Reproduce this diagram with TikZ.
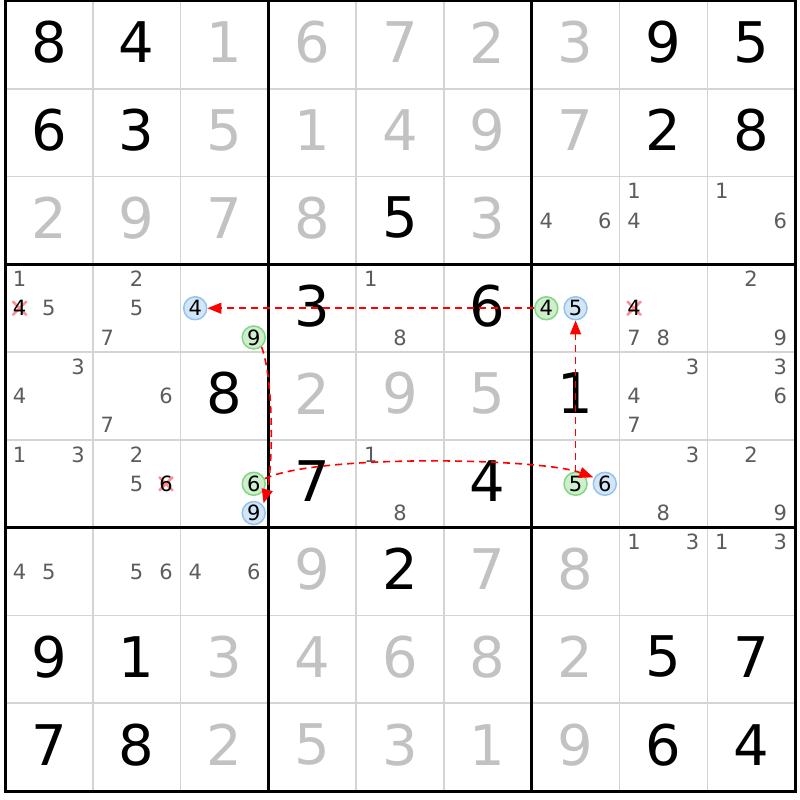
\documentclass[tikz,border=0pt]{standalone}
\usepackage{fontspec}
\setmainfont{DejaVu Sans}
\usetikzlibrary{arrows.meta}
\definecolor{thingrid}{HTML}{D4D4D4}
\definecolor{solvedgray}{HTML}{C2C2C2}
\definecolor{candgray}{HTML}{5C5C5C}
\definecolor{gfill}{HTML}{CDEFCD}
\definecolor{gline}{HTML}{84D684}
\definecolor{bfill}{HTML}{D2E6F8}
\definecolor{bline}{HTML}{94C4EE}
\definecolor{crosscol}{HTML}{FF8E8E}
\definecolor{linkred}{HTML}{FF0000}
\newcommand\mycandxy[3]{%
  \pgfmathsetmacro\myx{5+(#2-1)*87.78+(mod(#3-1,3)+0.5)*29.26}%
  \pgfmathsetmacro\myy{1+(#1-1)*87.78+(floor((#3-1)/3)+0.5)*29.26}}
\tikzset{
  thinline/.style={draw=thingrid,line width=1.5pt},
  thickline/.style={draw=black,line width=3pt,line cap=rect},
  bigdigit/.style={inner sep=0pt,anchor=center,font=\fontsize{56}{60}\selectfont},
  given/.style={bigdigit,text=black},
  solved/.style={bigdigit,text=solvedgray},
  candtext/.style={inner sep=0pt,anchor=center,text=candgray,font=\fontsize{21}{23}\selectfont},
  ringnode/.style={circle,inner sep=0pt,minimum size=23pt,line width=1.5pt,text=black,font=\fontsize{21}{23}\selectfont},
  greenring/.style={ringnode,draw=gline,fill=gfill},
  bluering/.style={ringnode,draw=bline,fill=bfill},
  crossmark/.style={draw=crosscol,line width=2.6pt,line cap=round},
  link/.style={draw=linkred,line width=1.6pt,dash pattern=on 7pt off 5pt,-{Triangle[length=14pt,width=11pt]}}
}
\begin{document}
\begin{tikzpicture}[x=1pt,y=-1pt]
\useasboundingbox (0,0) rectangle (800,800);
\fill[white] (0,0) rectangle (800,800);
% thin grid
\foreach \i in {1,2,4,5,7,8}{
  \draw[thinline] ({5+\i*87.78},1) -- ({5+\i*87.78},791);
  \draw[thinline] (5,{1+\i*87.78}) -- (795,{1+\i*87.78});
}
% big digits
\foreach \r/\c/\d/\k in {
 1/1/8/given,1/2/4/given,1/3/1/solved,1/4/6/solved,1/5/7/solved,1/6/2/solved,1/7/3/solved,1/8/9/given,1/9/5/given,
 2/1/6/given,2/2/3/given,2/3/5/solved,2/4/1/solved,2/5/4/solved,2/6/9/solved,2/7/7/solved,2/8/2/given,2/9/8/given,
 3/1/2/solved,3/2/9/solved,3/3/7/solved,3/4/8/solved,3/5/5/given,3/6/3/solved,
 4/4/3/given,4/6/6/given,
 5/3/8/given,5/4/2/solved,5/5/9/solved,5/6/5/solved,5/7/1/given,
 6/4/7/given,6/6/4/given,
 7/4/9/solved,7/5/2/given,7/6/7/solved,7/7/8/solved,
 8/1/9/given,8/2/1/given,8/3/3/solved,8/4/4/solved,8/5/6/solved,8/6/8/solved,8/7/2/solved,8/8/5/given,8/9/7/given,
 9/1/7/given,9/2/8/given,9/3/2/solved,9/4/5/solved,9/5/3/solved,9/6/1/solved,9/7/9/solved,9/8/6/given,9/9/4/given}{
  \node[\k] (v-\r-\c) at ({5+(\c-0.5)*87.78},{1+(\r-0.5)*87.78-2.5}) {\d};
}
% candidates
\foreach \r/\c/\d in {
 3/7/4,3/7/6,3/8/1,3/8/4,3/9/1,3/9/6,
 4/1/1,4/1/5,4/2/2,4/2/5,4/2/7,4/5/1,4/5/8,4/8/7,4/8/8,4/9/2,4/9/9,
 5/1/3,5/1/4,5/2/6,5/2/7,5/8/3,5/8/4,5/8/7,5/9/3,5/9/6,
 6/1/1,6/1/3,6/2/2,6/2/5,6/5/1,6/5/8,6/8/3,6/8/8,6/9/2,6/9/9,
 7/1/4,7/1/5,7/2/5,7/2/6,7/3/4,7/3/6,7/8/1,7/8/3,7/9/1,7/9/3}{
  \mycandxy{\r}{\c}{\d}
  \node[candtext] (c-\r-\c-\d) at (\myx,\myy) {\d};
}
% eliminated candidates
\foreach \r/\c/\d in {4/1/4,4/8/4,6/2/6}{
  \mycandxy{\r}{\c}{\d}
  \draw[crossmark] (\myx-6.5,\myy-6.5) -- (\myx+6.5,\myy+6.5);
  \draw[crossmark] (\myx-6.5,\myy+6.5) -- (\myx+6.5,\myy-6.5);
  \node[candtext,text=black] (x-\r-\c-\d) at (\myx,\myy) {\d};
}
% ringed candidates
\mycandxy{4}{3}{4} \node[bluering] (b4) at (\myx,\myy) {4};
\mycandxy{4}{3}{9} \node[greenring] (g9) at (\myx,\myy) {9};
\mycandxy{4}{7}{4} \node[greenring] (g4) at (\myx,\myy) {4};
\mycandxy{4}{7}{5} \node[bluering] (b5) at (\myx,\myy) {5};
\mycandxy{6}{3}{6} \node[greenring] (g6) at (\myx,\myy) {6};
\mycandxy{6}{3}{9} \node[bluering] (b9) at (\myx,\myy) {9};
\mycandxy{6}{7}{5} \node[greenring] (g5) at (\myx,\myy) {5};
\mycandxy{6}{7}{6} \node[bluering] (b6) at (\myx,\myy) {6};
% thick grid
\foreach \i in {0,3,6,9}{
  \draw[thickline] ({5+\i*87.78},1) -- ({5+\i*87.78},791);
  \draw[thickline] (5,{1+\i*87.78}) -- (795,{1+\i*87.78});
}
% links
\draw[link] (g4) -- (b4);
\draw[link,shorten >=2pt] (g9.-50) to[out=-70,in=75,looseness=0.6] (b9.40);
\draw[link,shorten >=1pt] (g6.25) to[out=25,in=160,looseness=0.45] (b6.150);
\draw[link] (g5) -- (b5);
\end{tikzpicture}
\end{document}
